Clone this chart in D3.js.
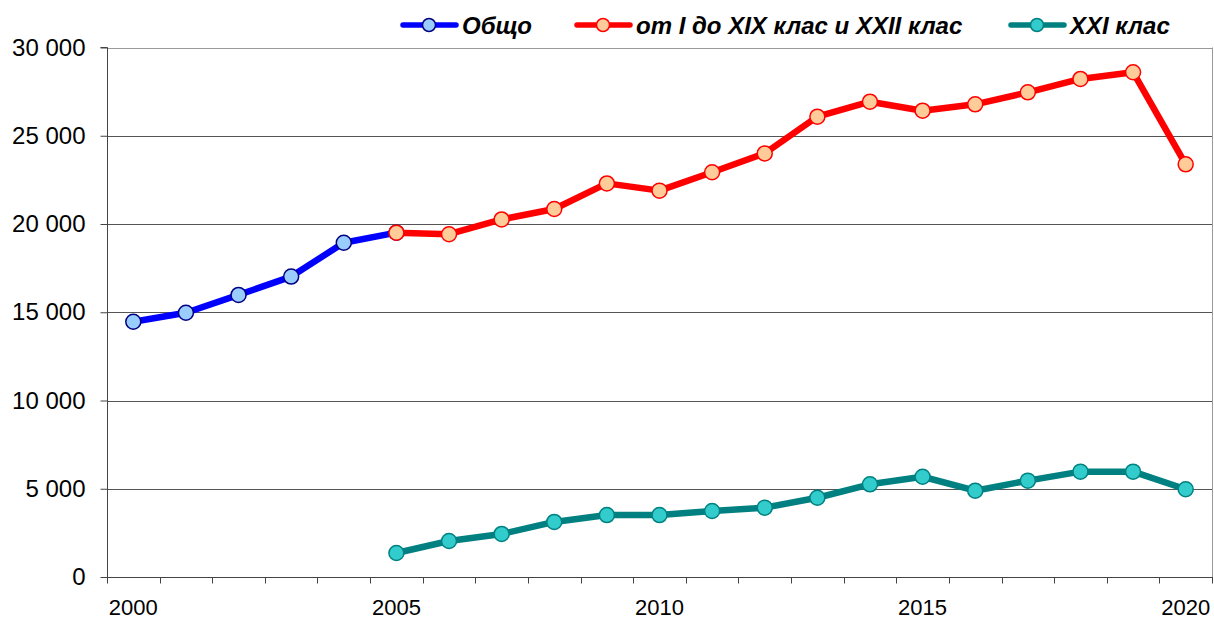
<!DOCTYPE html>
<html>
<head>
<meta charset="utf-8">
<script src="https://cdn.jsdelivr.net/npm/d3@7"></script>
<style>
  body { margin: 0; background: #fff; }
  svg { display: block; font-family: Arial, "Liberation Sans", sans-serif; }
</style>
</head>
<body>
<div id="chart"></div>
<script>
const years = d3.range(2000, 2021).map(String);
const yTicks = [0, 5000, 10000, 15000, 20000, 25000, 30000];
const xLabels = ['2000', '2005', '2010', '2015', '2020'];

const seriesNames = ['Общо', 'от I до XIX клас и XXII клас', 'XXI клас'];

// Общо (2000-2005)
const totalYears = ['2000', '2001', '2002', '2003', '2004', '2005'];
const totalValues = [14460, 14970, 15980, 17020, 18940, 19510];

// от I до XIX клас и XXII клас (2005-2020)
const mainYears = d3.range(2005, 2021).map(String);
const mainValues = [19510, 19420, 20260, 20850, 22300, 21890, 22930, 24000,
  26080, 26930, 26420, 26780, 27460, 28220, 28600, 23380];

// XXI клас (2005-2020)
const xxiYears = d3.range(2005, 2021).map(String);
const xxiValues = [1360, 2040, 2440, 3120, 3510, 3510, 3740, 3930,
  4490, 5250, 5680, 4890, 5460, 5970, 5970, 4970];

const width = 1214;
const height = 620;
const margin = { top: 47.5, right: 2, bottom: 43, left: 107 };

const svg = d3.select('#chart')
  .append('svg')
  .attr('width', width)
  .attr('height', height);

const x = d3.scaleBand()
  .domain(years)
  .range([margin.left, width - margin.right]);

const y = d3.scaleLinear()
  .domain([0, 30000])
  .range([height - margin.bottom, margin.top]);

const cx = (d) => x(d) + x.bandwidth() / 2;

// gridlines
svg.append('g')
  .selectAll('line')
  .data(yTicks.filter((d) => d > 0))
  .enter()
  .append('line')
  .attr('x1', margin.left)
  .attr('x2', width - margin.right)
  .attr('y1', (d) => Math.round(y(d)) + 0.5)
  .attr('y2', (d) => Math.round(y(d)) + 0.5)
  .attr('stroke', (d) => (d === 30000 ? '#999' : '#555'))
  .attr('stroke-width', 1);

// right border
svg.append('line')
  .attr('x1', width - margin.right + 0.5)
  .attr('x2', width - margin.right + 0.5)
  .attr('y1', y(30000))
  .attr('y2', y(0))
  .attr('stroke', '#999');

// y axis
const yAxis = svg.append('g')
  .attr('transform', `translate(${margin.left + 0.5},0)`)
  .call(d3.axisLeft(y)
    .tickValues(yTicks)
    .tickSize(7)
    .tickPadding(15)
    .tickFormat((d) => d3.format(',')(d).replace(/,/g, ' ')));
yAxis.select('.domain').attr('stroke', '#444').attr('d', `M-7,${y(30000)}H0V${y(0)}`);
yAxis.selectAll('.tick line').attr('stroke', '#444');
yAxis.selectAll('.tick text')
  .attr('font-size', '24px')
  .attr('fill', '#000');

// x axis
const xAxis = svg.append('g')
  .attr('transform', `translate(0,${Math.round(y(0)) + 0.5})`);
xAxis.append('line')
  .attr('x1', margin.left)
  .attr('x2', width - margin.right + 1)
  .attr('stroke', '#444');
xAxis.selectAll('.xtick')
  .data(years.concat(['end']))
  .enter()
  .append('line')
  .attr('x1', (d) => Math.round(d === 'end' ? x.range()[1] : x(d)) + 0.5)
  .attr('x2', (d) => Math.round(d === 'end' ? x.range()[1] : x(d)) + 0.5)
  .attr('y1', 0)
  .attr('y2', 6)
  .attr('stroke', '#444');
xAxis.selectAll('.xlabel')
  .data(xLabels)
  .enter()
  .append('text')
  .attr('x', (d) => cx(d))
  .attr('y', 37.5)
  .attr('text-anchor', 'middle')
  .attr('font-size', '22px')
  .attr('fill', '#000')
  .text((d) => d);

const series = [
  { name: seriesNames[0], years: totalYears, values: totalValues, line: '#0000ff', fill: '#99ccff', stroke: '#000080' },
  { name: seriesNames[1], years: mainYears, values: mainValues, line: '#ff0000', fill: '#ffcc99', stroke: '#ff0000' },
  { name: seriesNames[2], years: xxiYears, values: xxiValues, line: '#008080', fill: '#33cccc', stroke: '#008080' },
];

const line = d3.line()
  .x((d) => cx(d[0]))
  .y((d) => y(d[1]));

series.forEach((s) => {
  const pts = s.years.map((yr, i) => [yr, s.values[i]]);
  svg.append('path')
    .datum(pts)
    .attr('fill', 'none')
    .attr('stroke', s.line)
    .attr('stroke-width', 6.5)
    .attr('stroke-linejoin', 'round')
    .attr('d', line);
  svg.append('g')
    .selectAll('circle')
    .data(pts)
    .enter()
    .append('circle')
    .attr('cx', (d) => cx(d[0]))
    .attr('cy', (d) => y(d[1]))
    .attr('r', 7.5)
    .attr('fill', s.fill)
    .attr('stroke', s.stroke)
    .attr('stroke-width', 1.5);
});

// legend
const legendX = [401, 575, 1009];
const legend = svg.append('g');
series.forEach((s, i) => {
  const g = legend.append('g').attr('transform', `translate(${legendX[i]},25)`);
  g.append('line')
    .attr('x1', 2).attr('x2', 55)
    .attr('stroke', s.line)
    .attr('stroke-width', 5.5)
    .attr('stroke-linecap', 'round');
  g.append('circle')
    .attr('cx', 28).attr('r', 6.5)
    .attr('fill', s.fill)
    .attr('stroke', s.stroke)
    .attr('stroke-width', 1.5);
  g.append('text')
    .attr('x', 61)
    .attr('y', 8.5)
    .attr('font-size', '24px')
    .attr('font-weight', 'bold')
    .attr('font-style', 'italic')
    .attr('fill', '#000')
    .text(s.name);
});
</script>
</body>
</html>
